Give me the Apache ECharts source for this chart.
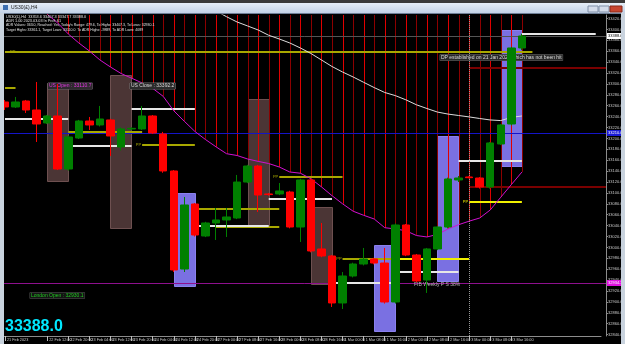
<!DOCTYPE html>
<html>
<head>
<meta charset="utf-8">
<script src="https://cdn.jsdelivr.net/npm/echarts@6/dist/echarts.min.js"></script>
<style>
html, body { margin: 0; padding: 0; background: #000; }
#main { width: 625px; height: 344px; }
</style>
</head>
<body>
<div id="main"></div>
<script>
// H4 bars, US30
var times = ['21 Feb 2023','22 Feb 00:00','22 Feb 04:00','22 Feb 08:00','22 Feb 12:00','22 Feb 16:00','22 Feb 20:00',
  '23 Feb 00:00','23 Feb 04:00','23 Feb 08:00','23 Feb 12:00','23 Feb 16:00','23 Feb 20:00',
  '24 Feb 00:00','24 Feb 04:00','24 Feb 08:00','24 Feb 12:00','24 Feb 16:00','24 Feb 20:00','26 Feb 20:00',
  '27 Feb 00:00','27 Feb 04:00','27 Feb 08:00','27 Feb 12:00','27 Feb 16:00','27 Feb 20:00',
  '28 Feb 00:00','28 Feb 04:00','28 Feb 08:00','28 Feb 12:00','28 Feb 16:00','28 Feb 20:00',
  '1 Mar 00:00','1 Mar 04:00','1 Mar 08:00','1 Mar 12:00','1 Mar 16:00','1 Mar 20:00',
  '2 Mar 00:00','2 Mar 04:00','2 Mar 08:00','2 Mar 12:00','2 Mar 16:00','2 Mar 20:00',
  '3 Mar 00:00','3 Mar 04:00','3 Mar 08:00','3 Mar 12:00','3 Mar 16:00','3 Mar 20:00',
  '4 Mar 00:00','4 Mar 04:00','4 Mar 08:00','4 Mar 12:00','4 Mar 16:00','4 Mar 20:00','5 Mar 00:00'];

// open, close, low, high
var ohlc = [
  [33266.9,33257.7,33252.2,33270.6],[33257.7,33266.9,33255.9,33276.1],[33268.7,33252.2,33246.7,33270.6],
  [33252.2,33226.5,33193.5,33303.6],[33228.4,33241.2,33226.5,33243.0],[33241.2,33143.9,33142.0,33300.0],
  [33143.9,33202.7,33141.0,33205.0],[33200.8,33232.0,33199.0,33234.0],[33232.0,33224.7,33215.5,33239.4],
  [33224.7,33235.7,33222.0,33259.6],[33233.9,33204.5,33167.8,33236.0],[33184.3,33217.4,33178.0,33220.0],
  [33217.4,33218.5,33215.0,33220.5],[33217.4,33241.2,33215.5,33259.6],[33241.2,33210.0,33208.2,33243.0],
  [33208.2,33140.3,33137.0,33212.0],[33140.3,32958.6,32955.0,33142.0],[32960.4,33077.9,32954.9,33092.6],
  [33079.7,33022.8,33020.0,33081.5],[33021.0,33044.9,33019.0,33047.0],[33044.9,33050.4,33013.7,33072.4],
  [33050.4,33055.9,33019.2,33072.4],[33054.0,33120.0,33052.0,33133.0],[33120.0,33149.4,33118.0,33151.5],
  [33149.4,33096.2,33065.1,33151.5],[33098.1,33097.0,33095.0,33100.0],[33098.1,33103.6,33096.0,33118.2],
  [33101.7,33037.5,33035.0,33104.0],[33037.5,33123.8,33010.0,33126.0],[33123.8,32993.5,32991.0,33126.0],
  [32997.2,32984.3,32982.0,33044.9],[32984.3,32898.1,32890.7,32986.0],[32898.1,32947.6,32887.0,32954.9],
  [32947.6,32969.6,32945.0,32972.0],[32969.6,32978.8,32967.0,32999.0],[32978.8,32971.4,32969.0,32981.0],
  [32971.4,32899.9,32897.0,32999.0],[32899.9,33041.2,32897.0,33044.0],[33041.2,32986.1,32984.0,33043.0],
  [32986.1,32938.4,32936.0,32988.0],[32940.2,32997.2,32916.5,32999.0],[32997.2,33037.5,32995.0,33039.0],
  [33037.5,33125.6,33035.0,33128.0],[33123.8,33127.4,33120.0,33131.0],[33129.3,33128.0,33127.0,33130.5],
  [33127.4,33110.9,33108.0,33129.0],[33110.9,33191.7,33108.0,33193.5],[33189.8,33224.7,33188.0,33226.5],
  [33226.5,33366.0,33224.0,33368.0],[33366.0,33388.0,33362.0,33392.0]
];

var maMagenta = [null,null,null,null,33428.0,33411.9,33391.7,33375.2,33360.5,33344.0,33331.1,33319.2,33310.6,
  33301.8,33292.0,33277.2,33250.8,33231.5,33212.9,33198.1,33184.7,33172.0,33168.7,33162.3,33157.9,33154.0,
  33147.6,33138.4,33136.2,33126.1,33111.1,33095.0,33080.1,33066.5,33059.0,33052.2,33036.2,33033.9,33030.7,
  33021.9,33019.2,33024.0,33033.9,33041.7,33048.2,33054.0,33068.7,33092.2,33115.3,33138.3];

var maWhite = [null,null,null,null,null,null,null,null,null,null,null,null,null,null,null,null,null,null,null,null,
  33433.9,33423.4,33413.7,33406.4,33399.0,33389.3,33382.5,33375.2,33366.0,33355.9,33344.0,33332.0,33321.9,
  33312.8,33303.0,33293.3,33284.3,33278.6,33270.9,33261.8,33254.9,33248.4,33244.7,33242.1,33239.5,33236.6,
  33233.9,33232.8,33238.6,33241.2];

// session rectangles: from bar, to bar, top price, bottom price
var brownBoxes = [[4,6,33301.7,33121.9],[10,12,33316.4,33035.7],[23,25,33272.4,33041.2],[29,31,33074.2,32932.9]];
var blueBoxes = [[16,18,33099.9,32929.3],[35,37,33004.5,32846.7],[41,43,33204.5,32938.4],[47,49,33399.0,33149.4]];

// level segments: from bar, to bar (-1 = chart edge), price, tag
var whiteSegs = [[0,6,33235.7],[6,12,33186.2],[12,18,33254.1],[18,25,33039.4],[25,31,33088.9],
  [31,37,32934.1],[37,43,32954.9],[43,49,33158.6],[49,56,33392.2]];
var oliveSegs = [[0,50,33358.6,'PP'],[0,1,33291.7],[6,13,33211.8],[13,18,33188.0,'PP'],[18,26,33070.5],
  [20,26,33036.6],[26,32,33129.3,'PP'],[32,37,32979.7,'PP']];
var yellowSegs = [[37,44,32979.7],[44,49,33082.5,'PP']];
var darkRedSegs = [[44,-1,33329.3],[44,-1,33110.9]];
var bidLine = [[-1,-1,33388.0]];
var blueLine = [[-1,-1,33210.0]];
var purpleLine = [[-1,-1,32934.3]];
var axisTags = [33388.0, 33210.0, 32934.3];

var FONT = '"Liberation Sans", Arial, sans-serif';

function boxSeries(boxes, fill, stroke, z) {
  return {
    type: 'custom', silent: true, z: z,
    data: boxes.map(function (b) { return [b[0], b[2]]; }),
    encode: {x: 0, y: 1},
    renderItem: function (params, api) {
      var b = boxes[params.dataIndex];
      var p0 = api.coord([b[0], b[2]]);
      var p1 = api.coord([b[1], b[3]]);
      return {
        type: 'rect',
        shape: {x: Math.round(p0[0]) + 0.5, y: Math.round(p0[1]) + 0.5,
          width: Math.round(p1[0] - p0[0]), height: Math.round(p1[1] - p0[1])},
        style: {fill: fill, stroke: stroke, lineWidth: 1}
      };
    }
  };
}

function segSeries(segs, color, width, z) {
  return {
    type: 'custom', silent: true, z: z,
    data: segs.map(function (s) { return [Math.max(s[0], 0), s[2]]; }),
    encode: {x: 0, y: 1},
    renderItem: function (params, api) {
      var s = segs[params.dataIndex];
      var cs = params.coordSys;
      var a = api.coord([Math.max(s[0], 0), s[2]]);
      var x1 = s[0] < 0 ? cs.x + 4 : a[0];
      var x2 = s[1] < 0 ? cs.x + cs.width + 5 : api.coord([s[1], s[2]])[0];
      var y = Math.round(a[1]) + (width % 2 === 1 ? 0.5 : 0);
      var kids = [{type: 'line', shape: {x1: x1, y1: y, x2: x2, y2: y},
        style: {stroke: color, lineWidth: width}}];
      if (s[3]) {
        var lx = x1 < 20 ? x1 + 5 : x1 - 1;
        kids.push({type: 'text', x: lx, y: y - 0.5,
          style: {text: s[3], fill: color, fontSize: 4, fontFamily: FONT,
            align: x1 < 20 ? 'left' : 'right', verticalAlign: 'middle'}});
      }
      return {type: 'group', children: kids};
    }
  };
}

var tagStyles = [['#ffffff', '#000000'], ['#1a1ad8', '#ffffff'], ['#e010e0', '#ffffff']];

function showTime(i) { return i % 2 === 0 && i <= 48; }

var option = {
  backgroundColor: '#000000',
  animation: false,
  grid: {left: -0.3, right: 24, top: 15, bottom: 8, outerBoundsMode: 'none'},
  xAxis: {
    type: 'category',
    data: times,
    axisLine: {lineStyle: {color: '#8c8c8c', width: 1}},
    axisTick: {show: true, alignWithLabel: true, length: 5, lineStyle: {color: '#bdbdbd'}, interval: showTime},
    axisLabel: {
      color: '#c8c8c8', fontSize: 3.8, fontFamily: FONT, align: 'left', margin: 2,
      padding: [0, 0, 0, 2], showMinLabel: true, hideOverlap: false,
      interval: showTime
    },
    splitLine: {show: false}
  },
  yAxis: {
    type: 'value',
    position: 'right',
    offset: 5,
    min: 32837.5,
    max: 33426.5,
    splitNumber: 30,
    minInterval: 20,
    maxInterval: 20,
    scale: true,
    axisLine: {show: true, lineStyle: {color: '#8c8c8c'}},
    axisTick: {show: true, length: 2, lineStyle: {color: '#8c8c8c'}},
    axisLabel: {color: '#c8c8c8', fontSize: 4, fontFamily: FONT, margin: 2,
      showMinLabel: false, showMaxLabel: false,
      formatter: function (v) { return v.toFixed(1); }},
    splitLine: {show: false}
  },
  series: [
    boxSeries(brownBoxes, '#4b3535', '#6e5050', 1),
    boxSeries(blueBoxes, '#7a70e2', '#8a80ee', 1),
    {
      // histogram from the chart top down to the magenta average
      type: 'custom', silent: true, z: 2,
      data: maMagenta.map(function (v, i) { return [i, v]; }).filter(function (d) { return d[1] != null; }),
      encode: {x: 0, y: 1},
      renderItem: function (params, api) {
        var i = api.value(0);
        var p = api.coord([i, api.value(1)]);
        var x = Math.round(p[0]) + 0.5;
        return {type: 'line', shape: {x1: x, y1: params.coordSys.y, x2: x, y2: p[1]},
          style: {stroke: i % 2 ? '#8c0000' : '#e00000', lineWidth: 1}};
      }
    },
    segSeries(bidLine, '#555555', 1, 3),
    segSeries(blueLine, '#1414c8', 1, 3),
    segSeries(purpleLine, '#8e108e', 1, 3),
    segSeries(darkRedSegs, '#7a0000', 2, 3),
    segSeries(oliveSegs, '#a8a800', 2, 3),
    segSeries(yellowSegs, '#f0f000', 2, 3),
    segSeries(whiteSegs, '#e6e6e6', 2, 3),
    {
      type: 'line', data: maMagenta, z: 4, showSymbol: false, silent: true,
      lineStyle: {color: '#d010d0', width: 1}
    },
    {
      type: 'line', data: maWhite, z: 4, showSymbol: false, silent: true,
      lineStyle: {color: '#dcdcdc', width: 1}
    },
    {
      type: 'candlestick', data: ohlc, z: 6, barWidth: 8,
      itemStyle: {color: '#008000', color0: '#ff0000', borderColor: '#008000', borderColor0: '#ff0000', borderWidth: 1},
      markLine: {
        silent: true, symbol: ['none', 'none'], label: {show: false},
        lineStyle: {type: 'dotted', color: '#9a9a9a', width: 1},
        data: [{xAxis: 44}]
      }
    },
    {
      type: 'custom', silent: true, z: 7,
      data: axisTags.map(function (v) { return [0, v]; }),
      encode: {x: 0, y: 1},
      renderItem: function (params, api) {
        var v = api.value(1);
        var p = api.coord([0, v]);
        var cs = params.coordSys;
        var st = tagStyles[params.dataIndex];
        var x = cs.x + cs.width + 6;
        return {type: 'group', children: [
          {type: 'rect', shape: {x: x, y: Math.round(p[1]) - 3, width: 14, height: 6}, style: {fill: st[0]}},
          {type: 'text', x: x + 1, y: Math.round(p[1]),
            style: {text: v.toFixed(1), fill: st[1], fontSize: 4, fontFamily: FONT, verticalAlign: 'middle'}}
        ]};
      }
    }
  ],
  graphic: [
    {type: 'rect', z: 20, shape: {x: 0, y: 0, width: 625, height: 3}, style: {fill: '#3a3a3a'}},
    {type: 'rect', z: 20, shape: {x: 0, y: 3, width: 625, height: 10},
      style: {fill: new echarts.graphic.LinearGradient(0, 0, 0, 1, [{offset: 0, color: '#e6eef8'}, {offset: 1, color: '#c3d2e6'}])}},
    {type: 'rect', z: 20, shape: {x: 0, y: 13, width: 625, height: 1}, style: {fill: '#6f7f96'}},
    {type: 'rect', z: 20, shape: {x: 3, y: 5, width: 5, height: 5}, style: {fill: '#3d6fb0'}},
    {type: 'text', z: 21, x: 11, y: 8, style: {text: 'US30(£),H4', fill: '#1a1a1a', fontSize: 5, fontFamily: FONT, verticalAlign: 'middle'}},
    {type: 'rect', z: 20, shape: {x: 588, y: 6, width: 10, height: 6}, style: {fill: '#d4dcea', stroke: '#8090a8'}},
    {type: 'rect', z: 20, shape: {x: 599, y: 6, width: 10, height: 6}, style: {fill: '#d4dcea', stroke: '#8090a8'}},
    {type: 'rect', z: 20, shape: {x: 610, y: 6, width: 12, height: 6}, style: {fill: '#c8452f', stroke: '#8a2a1a'}},
    {type: 'rect', z: 20, shape: {x: 0, y: 13, width: 4, height: 331}, style: {fill: '#c9d3de'}},
    {type: 'rect', z: 20, shape: {x: 621, y: 13, width: 4, height: 331}, style: {fill: '#c9d3de'}},

    {type: 'text', z: 8, x: 6, y: 16.5, style: {text: 'US30(£),H4  33353.6 33407.3 33347.7 33388.0', fill: '#e0e0e0', fontSize: 3.8, fontFamily: FONT, verticalAlign: 'middle'}},
    {type: 'text', z: 8, x: 6, y: 21, style: {text: 'ADR 1.00 2023.03.03 In Prof: 61', fill: '#e0e0e0', fontSize: 3.8, fontFamily: FONT, verticalAlign: 'middle'}},
    {type: 'text', z: 8, x: 6, y: 25.3, style: {text: "ADR Values: 363.0, Reached: Yes, Today's Range: 479.6, To Highs: 33407.3, To Lows: 32930.1", fill: '#e0e0e0', fontSize: 3.5, fontFamily: FONT, verticalAlign: 'middle'}},
    {type: 'text', z: 8, x: 6, y: 29.6, style: {text: 'Target Highs: 33361.1, Target Lows: 33110.0  To ADR Highs: -9889, To ADR Lows: 4089', fill: '#e0e0e0', fontSize: 3.5, fontFamily: FONT, verticalAlign: 'middle'}},

    {type: 'text', z: 5, x: 48, y: 86, style: {text: 'US Open : 33110.7', fill: '#e038e0', fontSize: 5, fontFamily: FONT, verticalAlign: 'middle',
      backgroundColor: '#2e2a2e', borderColor: '#6a606a', borderWidth: 0.5, padding: [1, 1, 0, 1]}},
    {type: 'text', z: 5, x: 130, y: 86, style: {text: 'US Close : 33392.2', fill: '#d6d6d6', fontSize: 5, fontFamily: FONT, verticalAlign: 'middle',
      backgroundColor: '#2c2c2c', borderColor: '#707070', borderWidth: 0.5, padding: [1, 1, 0, 1]}},
    {type: 'text', z: 5, x: 30, y: 295.5, style: {text: 'London Open : 32930.1', fill: '#22c822', fontSize: 5, fontFamily: FONT, verticalAlign: 'middle',
      backgroundColor: '#141414', borderColor: '#505050', borderWidth: 0.5, padding: [1, 1, 0, 1]}},
    {type: 'text', z: 5, x: 440, y: 57.5, style: {text: 'DP established on 21 Jan 2023 which has not been hit', fill: '#dcdcdc', fontSize: 5, fontFamily: FONT, verticalAlign: 'middle',
      backgroundColor: '#2a2a2a', borderColor: '#606060', borderWidth: 0.5, padding: [1, 1, 0, 1]}},
    {type: 'text', z: 5, x: 414, y: 284.5, style: {text: 'FIB Weekly P S 38%', fill: '#b8b8b8', fontSize: 5, fontFamily: FONT, verticalAlign: 'middle'}},
    {type: 'text', z: 8, x: 5, y: 327, style: {text: '33388.0', fill: '#00e8ff', fontSize: 16, fontWeight: 'bold', fontFamily: FONT, verticalAlign: 'middle'}}
  ]
};

var chart = echarts.init(document.getElementById('main'));
chart.setOption(option);
</script>
</body>
</html>
